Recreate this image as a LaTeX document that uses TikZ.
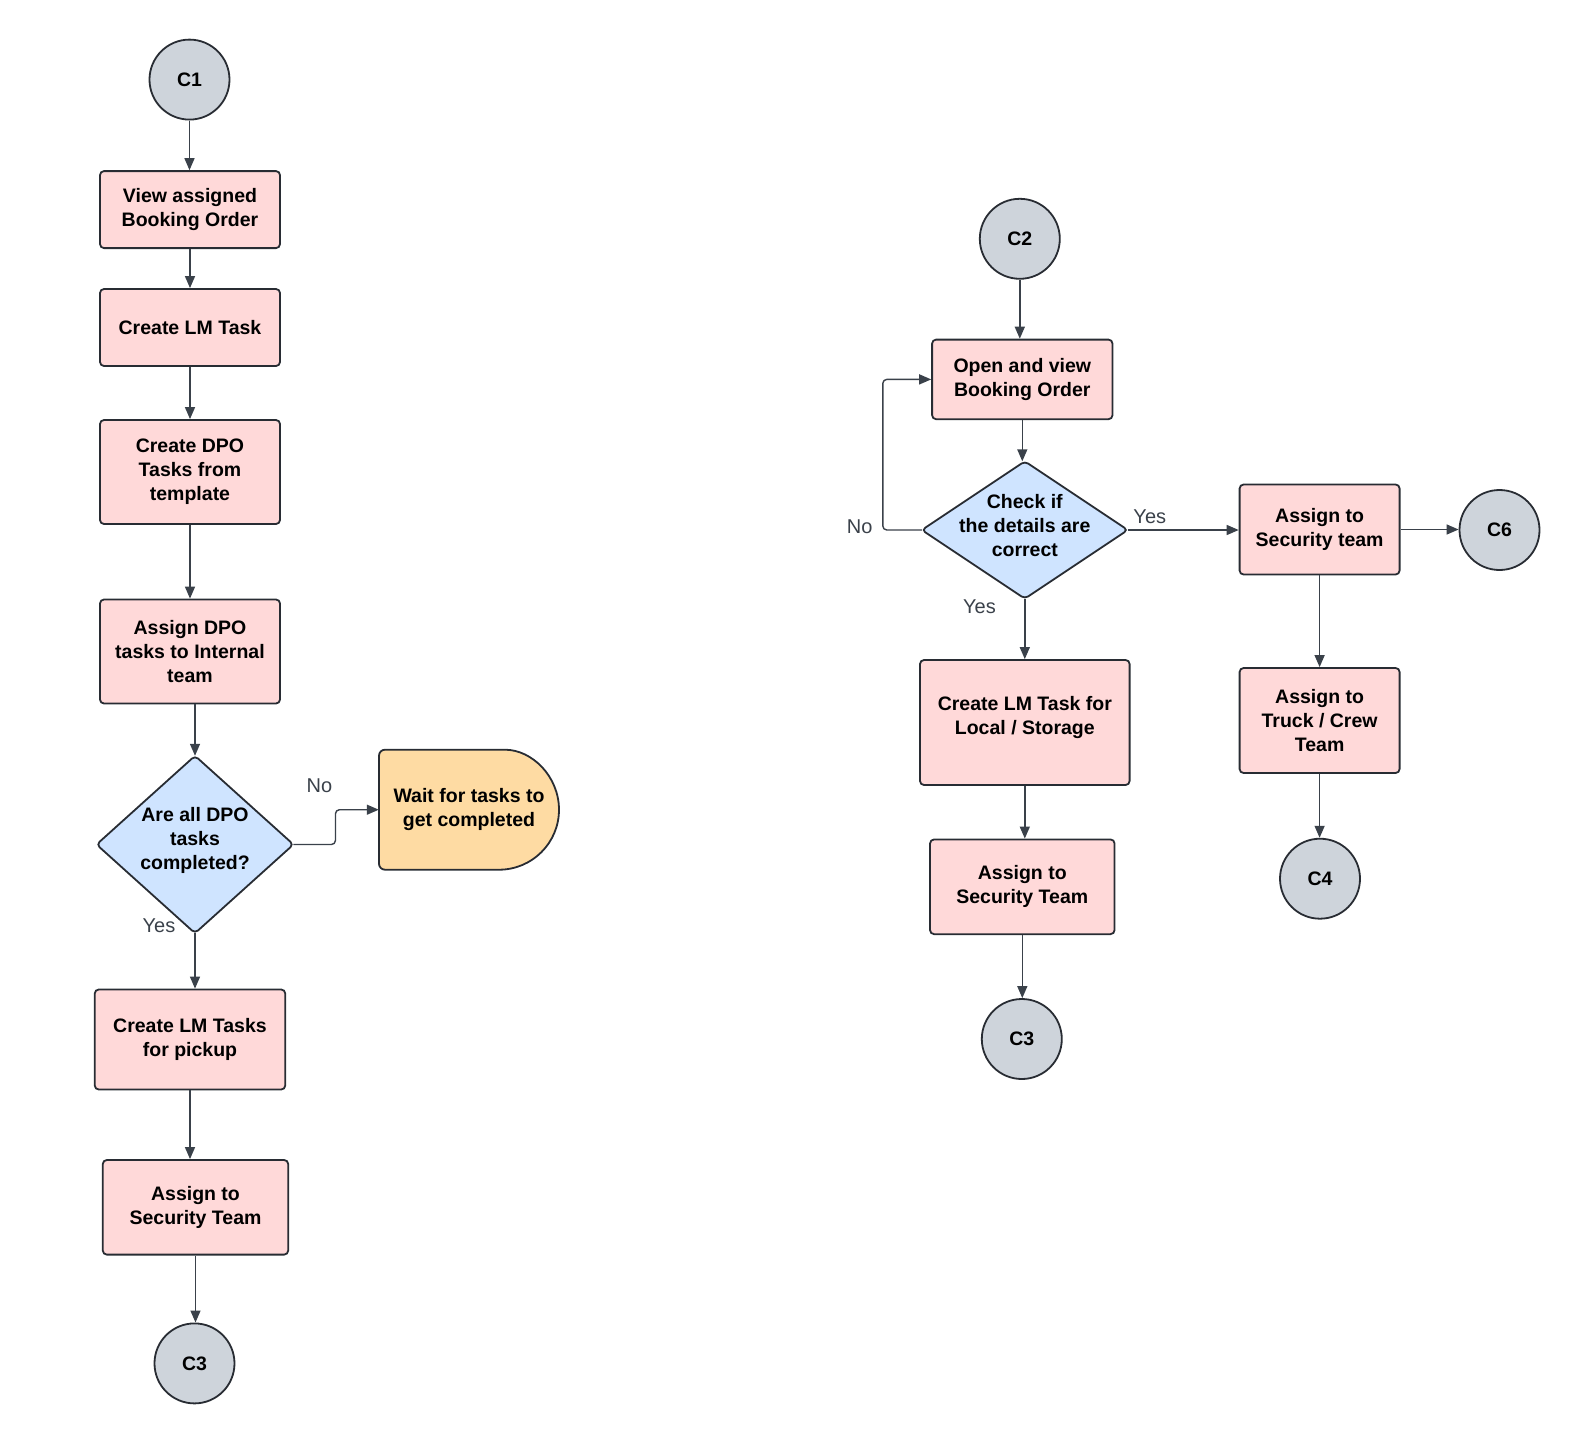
\documentclass[tikz,border=0pt]{standalone}
\usepackage{fontspec}
\setmainfont{Liberation Sans}
\usetikzlibrary{arrows.meta,backgrounds}
\definecolor{boxfill}{HTML}{FFD9D9}
\definecolor{bordc}{HTML}{282C33}
\definecolor{arrc}{HTML}{3A414A}
\definecolor{diafill}{HTML}{CFE4FF}
\definecolor{waitfill}{HTML}{FEDBA3}
\definecolor{circfill}{HTML}{CED4DB}
\begin{document}
\begin{tikzpicture}[x=1pt,y=-1pt,
  every node/.style={font=\bfseries\fontsize{19.5}{24}\selectfont, align=center, inner sep=0pt, text=black},
  proc/.style n args={2}{draw=bordc, fill=boxfill, line width=1.8pt, rounded corners=4pt, minimum width=#1pt, minimum height=#2pt},
  conn/.style={draw=bordc, fill=circfill, circle, line width=1.8pt, minimum size=80pt},
  diabox/.style n args={2}{minimum width=#1pt, minimum height=#2pt},
  diashape/.style={draw=bordc, fill=diafill, line width=1.8pt, rounded corners=4pt},
  arr/.style={draw=arrc, line width=1.4pt, -{Triangle[length=12pt,width=10pt]}, rounded corners=4pt},
  lbl/.style={font=\fontsize{20}{24}\selectfont, text=arrc}
]
\useasboundingbox (0,0) rectangle (1580,1445);

% ---------- left column ----------
\node[conn] (c1) at (189.5,79.6) {C1};
\node[proc={180}{77}] (v) at (190,209.6) {View assigned\\Booking Order};
\node[proc={180}{77}] (lm) at (190,327.5) {Create LM Task};
\node[proc={180}{104}] (dpo) at (190,472) {Create DPO\\Tasks from\\template};
\node[proc={180}{104}] (adpo) at (190,651.5) {Assign DPO\\tasks to Internal\\team};
\node[diabox={196.5}{177}] (d1) at (195,844.5) {};
\begin{scope}[on background layer]
  \draw[diashape] (d1.north) -- (d1.east) -- (d1.south) -- (d1.west) -- cycle;
\end{scope}
\node (d1t) at ([yshift=4pt]d1.center) {Are all DPO\\tasks\\completed?};

\draw[draw=bordc, fill=waitfill, line width=1.8pt] (499,749.7) arc[start angle=90,end angle=-90,radius=60pt] [rounded corners=6pt] -- (379,869.7) -- (379,749.7) -- cycle;
\node[minimum width=180pt, minimum height=120pt] (wait) at (469,809.7) {Wait for tasks to\\get completed};

\node[proc={190.5}{100}] (pick) at (190,1039.5) {Create LM Tasks\\for pickup};
\node[proc={185.4}{94.6}] (sec1) at (195.5,1207.3) {Assign to\\Security Team};
\node[conn] (c3a) at (194.5,1363.4) {C3};

\draw[arr] (c1.south) -- (c1.south |- v.north);
\draw[arr] (v.south) -- (v.south |- lm.north);
\draw[arr] (lm.south) -- (lm.south |- dpo.north);
\draw[arr] (dpo.south) -- (dpo.south |- adpo.north);
\draw[arr] (d1.north |- adpo.south) -- (d1.north);
\draw[arr] (d1.south) -- (d1.south |- pick.north);
\draw[arr] (pick.south) -- (pick.south |- sec1.north);
\draw[arr] (sec1.south) -- (sec1.south |- c3a.north);
\draw[arr] (d1.east) -- ++(42,0) |- (wait.west);

\node[lbl] (no1) at (319.5,786) {No};
\node[lbl] (yes1) at (159,926) {Yes};

% ---------- right side ----------
\node[conn] (c2) at (1019.8,238.8) {C2};
\node[proc={180.4}{79.6}] (open) at (1022.3,379.4) {Open and view\\Booking Order};
\node[diabox={205.6}{137}] (d2) at (1024.8,530) {};
\begin{scope}[on background layer]
  \draw[diashape] (d2.north) -- (d2.east) -- (d2.south) -- (d2.west) -- cycle;
\end{scope}
\node (d2t) at ([yshift=4pt]d2.center) {Check if\\the details are\\correct};
\node[proc={160}{90}] (sec2) at (1319.6,529.5) {Assign to\\Security team};
\node[conn] (c6) at (1499.5,530) {C6};
\node[proc={209.6}{125}] (local) at (1024.8,722.5) {};
\node (localt) at ([yshift=5pt]local.center) {Create LM Task for\\Local / Storage};
\node[proc={184.5}{94.7}] (sec3) at (1022.3,886.8) {Assign to\\Security Team};
\node[conn] (c3b) at (1021.8,1039) {C3};
\node[proc={160}{105}] (truck) at (1319.6,720.5) {Assign to\\Truck / Crew\\Team};
\node[conn] (c4) at (1320,878.7) {C4};

\draw[arr] (c2.south) -- (c2.south |- open.north);
\draw[arr] (open.south) -- (open.south |- d2.north);
\draw[arr] (d2.south) -- (d2.south |- local.north);
\draw[arr] (local.south) -- (local.south |- sec3.north);
\draw[arr] (sec3.south) -- (sec3.south |- c3b.north);
\draw[arr] (d2.east) -- (d2.east -| sec2.west);
\draw[arr] (sec2.east) -- (sec2.east -| c6.west);
\draw[arr] (sec2.south) -- (sec2.south |- truck.north);
\draw[arr] (truck.south) -- (truck.south |- c4.north);
\draw[arr] (d2.west) -- ++(-39,0) |- (open.west);

\node[lbl] (no2) at (859.6,527) {No};
\node[lbl] (yes2) at (1149.8,517) {Yes};
\node[lbl] (yes3) at (979.5,606.6) {Yes};
\end{tikzpicture}
\end{document}
